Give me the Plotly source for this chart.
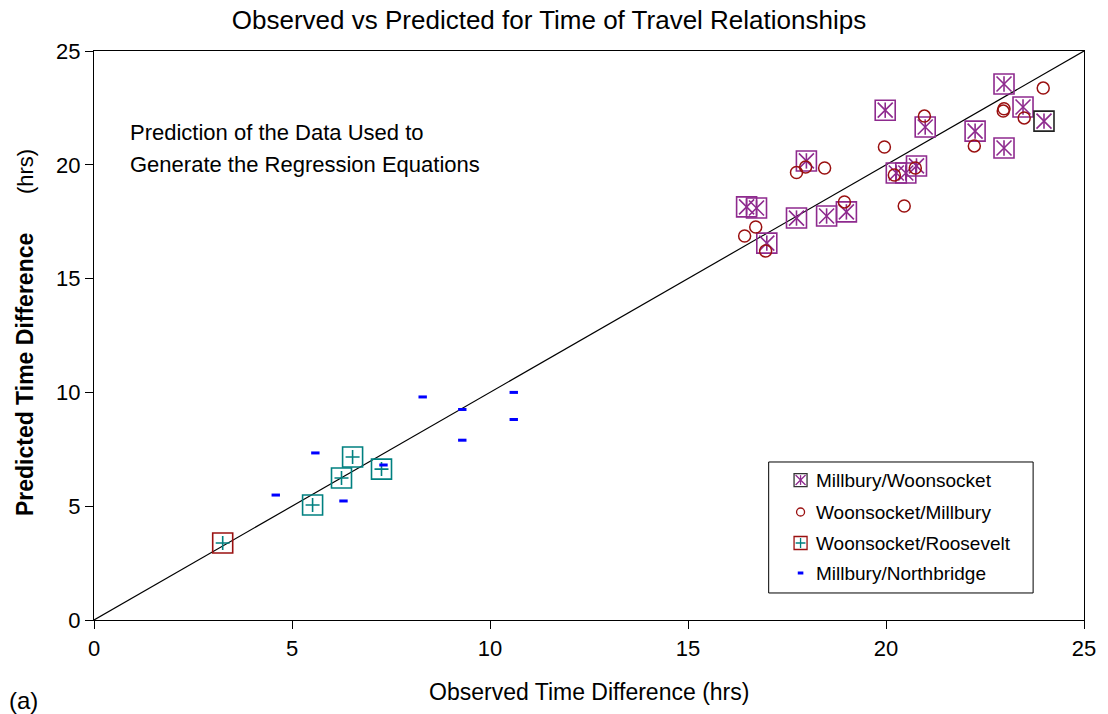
import plotly.graph_objects as go

# Millbury/Woonsocket
obs_mw = [16.48, 16.73, 16.99, 17.74, 17.99, 18.50, 19.00, 19.98, 20.26, 20.50,
          20.77, 20.99, 22.25, 22.98, 22.98, 23.46, 23.99]
pred_mw = [18.15, 18.10, 16.56, 17.66, 20.17, 17.75, 17.93, 22.40, 19.64, 19.64,
           19.95, 21.66, 21.48, 23.55, 20.74, 22.54, 21.92]

# Woonsocket/Millbury
obs_wm = [16.43, 16.71, 16.96, 17.74, 17.97, 18.45, 18.95, 19.96, 20.21, 20.46,
          20.74, 20.97, 22.23, 22.96, 22.98, 23.49, 23.97]
pred_wm = [16.87, 17.27, 16.21, 19.66, 19.90, 19.86, 18.37, 20.78, 19.55, 18.19,
           19.86, 22.14, 20.83, 22.36, 22.46, 22.06, 23.37]

# Woonsocket/Roosevelt
obs_wr = [3.25, 5.52, 6.25, 6.53, 7.26]
pred_wr = [3.38, 5.05, 6.24, 7.16, 6.63]

# Millbury/Northbridge
obs_mn = [4.59, 5.59, 6.30, 7.31, 8.30, 9.30, 9.30, 10.60, 10.60]
pred_mn = [5.49, 7.34, 5.23, 6.81, 9.80, 9.25, 7.90, 10.00, 8.81]

series_names = ["Millbury/Woonsocket", "Woonsocket/Millbury",
                "Woonsocket/Roosevelt", "Millbury/Northbridge"]

axis_ticks = [0, 5, 10, 15, 20, 25]

PURPLE = "#8E2A8E"
DARKRED = "#9A1010"
TEAL = "#008080"
BLUE = "#0000FF"
FONT = "Liberation Sans, Arial, sans-serif"


def mk(symbol, size, color, width):
    return dict(symbol=symbol, size=size, color=color,
                line=dict(width=width, color=color))


fig = go.Figure()

# 1:1 line
fig.add_trace(go.Scatter(x=[axis_ticks[0], axis_ticks[-1]], y=[axis_ticks[0], axis_ticks[-1]],
                         mode="lines", line=dict(color="black", width=1.2),
                         showlegend=False, hoverinfo="skip"))

# Millbury/Woonsocket: box + X + vertical stroke
box_cols_mw = [PURPLE] * (len(obs_mw) - 1) + ["#222222"]
fig.add_trace(go.Scatter(x=obs_mw, y=pred_mw, mode="markers", showlegend=False,
                         marker=mk("square-open", 20, box_cols_mw, 1.6)))
fig.add_trace(go.Scatter(x=obs_mw, y=pred_mw, mode="markers", showlegend=False,
                         marker=mk("x-thin-open", 15, PURPLE, 1.6)))
fig.add_trace(go.Scatter(x=obs_mw, y=pred_mw, mode="markers", showlegend=False,
                         marker=mk("line-ns-open", 11, PURPLE, 1.6)))

# Woonsocket/Millbury: open circles
fig.add_trace(go.Scatter(x=obs_wm, y=pred_wm, mode="markers", showlegend=False,
                         marker=mk("circle-open", 12, DARKRED, 1.5)))

# Woonsocket/Roosevelt: box + plus
box_cols_wr = [DARKRED] + [TEAL] * (len(obs_wr) - 1)
fig.add_trace(go.Scatter(x=obs_wr, y=pred_wr, mode="markers", showlegend=False,
                         marker=mk("square-open", 20, box_cols_wr, 1.6)))
fig.add_trace(go.Scatter(x=obs_wr, y=pred_wr, mode="markers", showlegend=False,
                         marker=mk("cross-thin-open", 10, TEAL, 1.6)))

# Millbury/Northbridge: short dashes
fig.add_trace(go.Scatter(x=obs_mn, y=pred_mn, mode="markers", showlegend=False,
                         marker=mk("line-ew-open", 6, BLUE, 3)))

# Custom legend drawn on an overlay axis spanning the plot area (0..1)
leg_gx = 0.7137
leg_tx = 0.7268
leg_rows = [0.246, 0.1898, 0.1353, 0.0826]


def leg(symbol, size, color, width, row):
    fig.add_trace(go.Scatter(x=[leg_gx], y=[leg_rows[row]], xaxis="x2", yaxis="y2",
                             mode="markers", showlegend=False, hoverinfo="skip",
                             marker=mk(symbol, size, color, width)))


leg("square-open", 13, "#333333", 1.3, 0)
leg("x-thin-open", 10, PURPLE, 1.3, 0)
leg("line-ns-open", 7, PURPLE, 1.3, 0)
leg("circle-open", 8, DARKRED, 1.3, 1)
leg("square-open", 13, DARKRED, 1.3, 2)
leg("cross-thin-open", 7, TEAL, 1.3, 2)
leg("line-ew-open", 4, BLUE, 3, 3)


def note(text, x, y, size, xanchor="left", angle=0):
    return dict(x=x, y=y, xref="paper", yref="paper", text=text, showarrow=False,
                xanchor=xanchor, yanchor="middle", textangle=angle,
                font=dict(family=FONT, size=size, color="black"))


annotations = [note(name, leg_tx, ry, 19) for name, ry in zip(series_names, leg_rows)]
annotations += [
    note("Prediction of the Data Used to", 0.0343, 0.8576, 22),
    note("Generate the Regression Equations", 0.0343, 0.8014, 22),
    note("<b>Predicted Time Difference</b>", -0.0696, 0.4306, 23, "center", -90),
    note("(hrs)", -0.0696, 0.7873, 22, "center", -90),
    note("Observed Time Difference (hrs)", 0.5, -0.1265, 23, "center"),
    note("(a)", -0.0877, -0.1406, 24),
]

axis_style = dict(range=[0, 25], tickvals=axis_ticks, showgrid=False, zeroline=False,
                  showline=True, linecolor="black", linewidth=1.2, mirror=True,
                  ticks="outside", ticklen=8, tickcolor="black",
                  tickfont=dict(family=FONT, size=22, color="black"))

fig.update_layout(
    width=1108, height=714,
    margin=dict(l=94, r=22, t=51, b=94),
    paper_bgcolor="white", plot_bgcolor="white",
    title=dict(text="Observed vs Predicted for Time of Travel Relationships",
               x=549 / 1108, xanchor="center", y=1 - 20 / 714, yanchor="middle",
               font=dict(family=FONT, size=26, color="black")),
    xaxis=axis_style,
    yaxis=axis_style,
    xaxis2=dict(overlaying="x", range=[0, 1], visible=False),
    yaxis2=dict(overlaying="y", range=[0, 1], visible=False),
    shapes=[dict(type="rect", xref="paper", yref="paper",
                 x0=0.6815, x1=0.9486, y0=0.0475, y1=0.2777,
                 line=dict(color="black", width=1), fillcolor="rgba(0,0,0,0)")],
    annotations=annotations,
    showlegend=False,
)

fig.write_html("out.html")
